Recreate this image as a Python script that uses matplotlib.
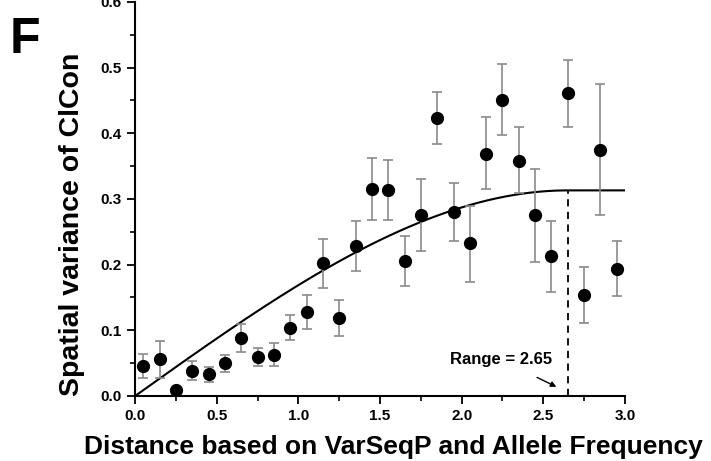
import numpy as np
import matplotlib.pyplot as plt
from matplotlib.ticker import MultipleLocator

plt.rcParams['font.family'] = ['Liberation Sans', 'DejaVu Sans']
plt.rcParams['font.weight'] = 'bold'

# binned semivariance of ClCon by distance
dist = [0.05, 0.15, 0.25, 0.35, 0.45, 0.55, 0.65, 0.75, 0.85, 0.95,
        1.05, 1.15, 1.25, 1.35, 1.45, 1.55, 1.65, 1.75, 1.85, 1.95,
        2.05, 2.15, 2.25, 2.35, 2.45, 2.55, 2.65, 2.75, 2.85, 2.95]
gamma = [0.046, 0.056, 0.009, 0.038, 0.033, 0.050, 0.089, 0.060, 0.063, 0.104,
         0.128, 0.202, 0.119, 0.229, 0.315, 0.313, 0.205, 0.276, 0.423, 0.280,
         0.233, 0.369, 0.451, 0.358, 0.275, 0.213, 0.461, 0.154, 0.375, 0.194]
err_lo = [0.018, 0.029, 0.000, 0.013, 0.011, 0.013, 0.022, 0.014, 0.017, 0.019,
          0.026, 0.037, 0.028, 0.038, 0.047, 0.045, 0.037, 0.055, 0.040, 0.044,
          0.059, 0.054, 0.053, 0.049, 0.071, 0.055, 0.051, 0.043, 0.100, 0.042]
err_hi = [0.018, 0.028, 0.000, 0.015, 0.011, 0.012, 0.021, 0.013, 0.017, 0.020,
          0.026, 0.037, 0.027, 0.037, 0.048, 0.047, 0.039, 0.054, 0.039, 0.044,
          0.056, 0.055, 0.055, 0.052, 0.070, 0.053, 0.051, 0.043, 0.100, 0.042]

# spherical model fit
sill = 0.313
rng = 2.65

fig = plt.figure(figsize=(7.11, 4.61), dpi=100)
ax = fig.add_axes([0.190, 0.141, 0.689, 0.855])

ax.errorbar(dist, gamma, yerr=[err_lo, err_hi], fmt='o', color='black',
            ecolor='#8a8a8a', elinewidth=1.2, capsize=3.5, capthick=1.2,
            markersize=8.5, zorder=3)

h = np.linspace(0, 3.0, 400)
r = np.minimum(h / rng, 1.0)
model = sill * (1.5 * r - 0.5 * r ** 3)
ax.plot(h, model, color='black', lw=1.5, zorder=2)

ax.plot([rng, rng], [0, sill], color='black', lw=1.3, ls=(0, (4, 3)))
ax.annotate(f'Range = {rng}', xy=(2.58, 0.014), xytext=(2.24, 0.055),
            ha='center', va='center', fontsize=12, fontweight='bold',
            arrowprops=dict(arrowstyle='-|>', color='black', lw=1,
                            mutation_scale=8, shrinkA=12, shrinkB=0))

ax.set_xlim(0, 3.0)
ax.set_ylim(0, 0.6)
ax.xaxis.set_major_locator(MultipleLocator(0.5))
ax.xaxis.set_minor_locator(MultipleLocator(0.25))
ax.yaxis.set_major_locator(MultipleLocator(0.1))
ax.yaxis.set_minor_locator(MultipleLocator(0.05))
ax.xaxis.set_major_formatter(lambda v, p: f'{v:.1f}')
ax.yaxis.set_major_formatter(lambda v, p: f'{v:.1f}')
for s in ['top', 'right']:
    ax.spines[s].set_visible(False)
for s in ['left', 'bottom']:
    ax.spines[s].set_linewidth(1.5)
ax.tick_params(which='major', length=6, width=1.3, labelsize=11)
ax.tick_params(which='minor', length=3.5, width=1.2)

# axis titles placed on the figure
fig.text(0.553, 0.016, 'Distance based on VarSeqP and Allele Frequency',
         ha='center', va='baseline', fontsize=19, fontweight='bold')
fig.text(0.101, 0.514, 'Spatial variance of ClCon', rotation=90,
         ha='center', va='center', fontsize=20.5, fontweight='bold')

fig.text(0.014, 0.885, 'F', fontsize=36, fontweight='bold', va='baseline')

fig.savefig('out.png', dpi=100)
